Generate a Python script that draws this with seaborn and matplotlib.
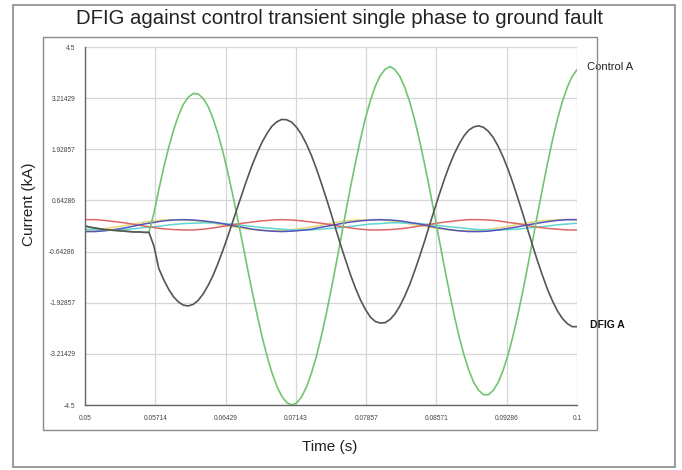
import numpy as np
import pandas as pd
import seaborn as sns
import matplotlib.pyplot as plt
from matplotlib.patches import Rectangle
plt.switch_backend('Agg')

TITLE = "DFIG against control transient single phase to ground fault"
X_TICKS = [0.05, 0.05714, 0.06429, 0.07143, 0.07857, 0.08571, 0.09286, 0.1]
X_TICK_LABELS = ["0.05", "0.05714", "0.06429", "0.07143", "0.07857", "0.08571", "0.09286", "0.1"]
Y_TICKS = [-4.5, -3.21429, -1.92857, -0.64286, 0.64286, 1.92857, 3.21429, 4.5]
Y_TICK_LABELS = ["-4.5", "-3.21429", "-1.92857", "-0.64286", "0.64286", "1.92857", "3.21429", "4.5"]

# sample grids (s): fine for phase A, coarse for the small phases
t_fine = np.linspace(0.05, 0.1, 101)
t_coarse = np.linspace(0.05, 0.1, 51)

control_a = [
    0.00, -0.03, -0.05, -0.07, -0.09, -0.10, -0.11, -0.12, -0.13, -0.14, -0.15, -0.15, -0.16, -0.16,
    0.32, 0.91, 1.47, 1.97, 2.41, 2.78, 3.06, 3.24, 3.33, 3.32, 3.21, 3.01, 2.71, 2.33, 1.88, 1.36,
    0.80, 0.20, -0.42, -1.05, -1.66, -2.24, -2.79, -3.27, -3.69, -4.03, -4.28, -4.44, -4.50,
    -4.45, -4.30, -4.05, -3.71, -3.29, -2.79, -2.23, -1.62, -0.98, -0.32, 0.35, 1.00, 1.61, 2.19,
    2.71, 3.15, 3.51, 3.78, 3.94, 4.01,
    3.93, 3.76, 3.48, 3.12, 2.67, 2.15, 1.57, 0.96, 0.31, -0.35,
    -1.00, -1.63, -2.22, -2.76, -3.23, -3.62, -3.93, -4.13, -4.24, -4.24,
    -4.13, -3.93, -3.62, -3.23, -2.76, -2.22, -1.63, -1.00, -0.35, 0.31,
    0.95, 1.57, 2.15, 2.67, 3.12, 3.48, 3.76, 3.93,
]
dfig_a = [
    0.00, -0.03, -0.05, -0.07, -0.09, -0.10, -0.11, -0.12, -0.13, -0.14, -0.15, -0.15, -0.16, -0.16,
    -0.50, -1.07, -1.35, -1.59, -1.78, -1.91, -1.99, -2.01, -1.97, -1.87,
    -1.71, -1.50, -1.25, -0.95, -0.62, -0.27, 0.10, 0.47, 0.84, 1.20,
    1.54, 1.84, 2.11, 2.33, 2.51, 2.62, 2.68,
    2.67, 2.61, 2.48, 2.30, 2.06, 1.78, 1.45, 1.09, 0.71, 0.32,
    -0.09, -0.49, -0.87, -1.24, -1.57, -1.86, -2.10, -2.29, -2.40, -2.44,
    -2.43, -2.35, -2.21, -2.01, -1.76, -1.47, -1.13, -0.77, -0.39, 0.01,
    0.40, 0.79, 1.16, 1.50, 1.80, 2.05, 2.26, 2.41, 2.49, 2.52,
    2.48, 2.38, 2.22, 2.00, 1.73, 1.42, 1.07, 0.69, 0.30, -0.10,
    -0.50, -0.89, -1.25, -1.59, -1.88, -2.13, -2.32, -2.45, -2.53, -2.53,
]
phase_red = [
    0.16, 0.16, 0.14, 0.11, 0.08, 0.04, 0.00, -0.04, -0.07, -0.09,
    -0.10, -0.10, -0.08, -0.05, -0.01, 0.03, 0.07, 0.10, 0.13, 0.15,
    0.16, 0.15, 0.13, 0.10, 0.07, 0.03, -0.01, -0.05, -0.08, -0.10,
    -0.10, -0.09, -0.07, -0.04, 0.00, 0.04, 0.08, 0.11, 0.14, 0.16,
    0.16, 0.15, 0.13, 0.09, 0.06, 0.01, -0.03, -0.06, -0.08, -0.10, -0.10,
]
phase_blue = [
    -0.14, -0.14, -0.12, -0.09, -0.05, 0.00, 0.05, 0.09, 0.13, 0.15,
    0.16, 0.15, 0.13, 0.10, 0.06, 0.01, -0.03, -0.08, -0.11, -0.13,
    -0.14, -0.13, -0.11, -0.08, -0.03, 0.01, 0.06, 0.10, 0.13, 0.15,
    0.16, 0.15, 0.13, 0.09, 0.05, 0.00, -0.05, -0.09, -0.12, -0.14,
    -0.14, -0.13, -0.10, -0.06, -0.02, 0.03, 0.07, 0.11, 0.14, 0.16, 0.16,
]
phase_cyan = [
    -0.08, -0.09, -0.10, -0.10, -0.09, -0.07, -0.04, -0.02, 0.01, 0.04,
    0.06, 0.07, 0.08, 0.08, 0.06, 0.05, 0.02, -0.01, -0.04, -0.06,
    -0.08, -0.10, -0.10, -0.10, -0.08, -0.06, -0.04, -0.01, 0.02, 0.05,
    0.06, 0.08, 0.08, 0.07, 0.06, 0.04, 0.01, -0.02, -0.04, -0.07,
    -0.09, -0.10, -0.10, -0.09, -0.08, -0.05, -0.03, 0.00, 0.03, 0.05, 0.07,
]
phase_yellow = [
    -0.12, -0.10, -0.07, -0.03, 0.01, 0.05, 0.10, 0.13, 0.15, 0.16,
    0.15, 0.14, 0.11, 0.07, 0.02, -0.02, -0.06, -0.09, -0.11, -0.12,
    -0.11, -0.09, -0.06, -0.02, 0.02, 0.07, 0.11, 0.14, 0.15, 0.16,
    0.15, 0.13, 0.10, 0.05, 0.01, -0.03, -0.07, -0.10, -0.12, -0.12,
    -0.11, -0.08, -0.05, -0.01, 0.04, 0.08, 0.12, 0.14, 0.16, 0.16, 0.15,
]

sns.set_style("white")
plt.rcParams['font.family'] = ['Liberation Sans', 'DejaVu Sans']

fig = plt.figure(figsize=(6.82, 4.70), dpi=100)
ax = fig.add_axes([85 / 682, 1 - 405 / 470, 492 / 682, 358 / 470])

# outer frame and inner panel
fig.patches.append(Rectangle((13 / 682, 3 / 470), 662 / 682, 462 / 470, transform=fig.transFigure,
                             fill=False, edgecolor="#8a8a8a", linewidth=1.2))
fig.patches.append(Rectangle((43 / 682, 1 - 430 / 470), 554 / 682, 393 / 470, transform=fig.transFigure,
                             fill=False, edgecolor="#8a8a8a", linewidth=1.0))

small = [(phase_yellow, "#e6d77a"), (phase_cyan, "#5fd6cf"), (phase_red, "#e06666"), (phase_blue, "#5454bb")]
for vals, col in small:
    df = pd.DataFrame({"t": t_coarse, "v": vals})
    sns.lineplot(data=df, x="t", y="v", color=col, linewidth=1.1, ax=ax, estimator=None, sort=False)

df_g = pd.DataFrame({"t": t_fine, "v": control_a})
sns.lineplot(data=df_g, x="t", y="v", color="#72c472", linewidth=1.2, ax=ax, estimator=None, sort=False)
df_b = pd.DataFrame({"t": t_fine, "v": dfig_a})
sns.lineplot(data=df_b, x="t", y="v", color="#555555", linewidth=1.2, ax=ax, estimator=None, sort=False)

ax.set_xlim(0.05, 0.1)
ax.set_ylim(-4.5, 4.5)
ax.set_xticks(X_TICKS)
ax.set_xticklabels(X_TICK_LABELS)
ax.set_yticks(Y_TICKS)
ax.set_yticklabels(Y_TICK_LABELS)
ax.tick_params(axis="both", labelsize=4.8, colors="#444444", length=2, width=0.6, pad=5)
ax.grid(True, color="#d6d6d6", linewidth=0.9)
for s in ["top", "right"]:
    ax.spines[s].set_visible(False)
for s in ["left", "bottom"]:
    ax.spines[s].set_color("#666666")
    ax.spines[s].set_linewidth(1.0)

ax.set_xlabel("Time (s)", fontsize=11, color="#222222")
ax.set_ylabel("Current (kA)", fontsize=11, color="#222222")
ax.xaxis.set_label_coords(0.497, -0.098)
ax.yaxis.set_label_coords(-0.100, 0.56)

ax.annotate("Control A", xy=(t_fine[-1], control_a[-1]), xytext=(7, 2), textcoords="offset points",
            fontsize=8, va="center", ha="left", color="#222222", annotation_clip=False)
ax.annotate("DFIG A", xy=(t_fine[-1], dfig_a[-1]), xytext=(9, 1), textcoords="offset points",
            fontsize=7.5, fontweight="bold", va="center", ha="left", color="#111111", annotation_clip=False)

fig.text(340 / 682, 1 - 18 / 470, TITLE, ha="center", va="center", fontsize=14.7, color="#222222")

fig.savefig("out.png", dpi=100)
plt.close(fig)
